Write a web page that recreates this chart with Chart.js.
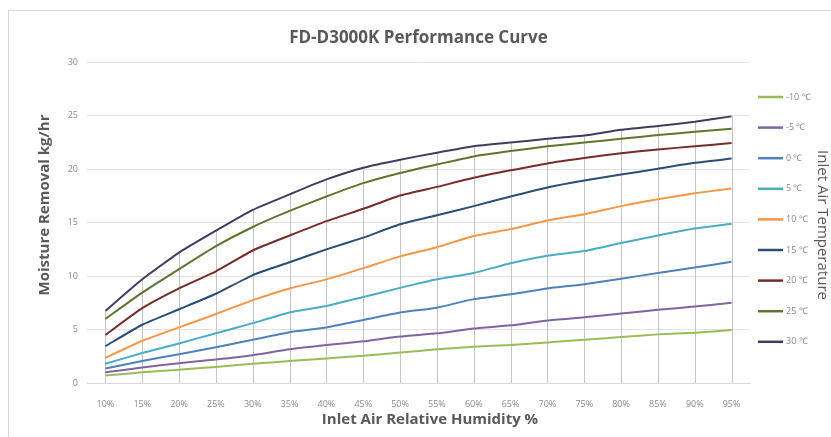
<!DOCTYPE html>
<html>
<head>
<meta charset="utf-8">
<script src="https://cdn.jsdelivr.net/npm/chart.js@4"></script>
<style>
  body { margin: 0; background: #fff; }
  .wrap { width: 831px; height: 437px; position: relative; }
</style>
</head>
<body>
<div class="wrap"><canvas id="chart"></canvas></div>
<script>
// relative humidity categories
const humidity = ["10%","15%","20%","25%","30%","35%","40%","45%","50%","55%","60%","65%","70%","75%","80%","85%","90%","95%"];

// moisture removal (kg/hr) per inlet air temperature
const tMinus10 = [0.7, 1.0, 1.25, 1.5, 1.8, 2.05, 2.3, 2.55, 2.85, 3.15, 3.4, 3.55, 3.8, 4.05, 4.3, 4.55, 4.7, 4.95];
const tMinus5  = [1.0, 1.45, 1.85, 2.2, 2.6, 3.15, 3.55, 3.9, 4.35, 4.65, 5.1, 5.4, 5.85, 6.15, 6.5, 6.85, 7.15, 7.5];
const t0  = [1.35, 2.05, 2.7, 3.35, 4.05, 4.75, 5.2, 5.9, 6.6, 7.05, 7.85, 8.3, 8.85, 9.25, 9.75, 10.3, 10.8, 11.35];
const t5  = [1.8, 2.8, 3.7, 4.65, 5.6, 6.6, 7.2, 8.05, 8.9, 9.7, 10.3, 11.2, 11.9, 12.35, 13.1, 13.8, 14.45, 14.9];
const t10 = [2.35, 3.95, 5.2, 6.45, 7.75, 8.85, 9.7, 10.75, 11.85, 12.7, 13.75, 14.4, 15.2, 15.8, 16.55, 17.2, 17.75, 18.2];
const t15 = [3.45, 5.45, 6.9, 8.35, 10.1, 11.3, 12.5, 13.6, 14.85, 15.7, 16.55, 17.45, 18.3, 18.95, 19.5, 20.05, 20.6, 21.0];
const t20 = [4.5, 7.0, 8.85, 10.45, 12.4, 13.8, 15.15, 16.3, 17.55, 18.35, 19.2, 19.9, 20.55, 21.05, 21.5, 21.85, 22.15, 22.45];
const t25 = [6.0, 8.45, 10.65, 12.8, 14.6, 16.1, 17.45, 18.7, 19.65, 20.45, 21.2, 21.7, 22.15, 22.5, 22.85, 23.2, 23.5, 23.8];
const t30 = [6.75, 9.7, 12.2, 14.25, 16.2, 17.65, 19.05, 20.15, 20.9, 21.55, 22.15, 22.5, 22.85, 23.15, 23.7, 24.05, 24.45, 24.95];

const seriesLabels = ["-10 ℃","-5 ℃","0 ℃","5 ℃","10 ℃","15 ℃","20 ℃","25 ℃","30 ℃"];
const seriesData = [tMinus10, tMinus5, t0, t5, t10, t15, t20, t25, t30];
const seriesColors = ["#9bbb59","#8064a2","#4f81bd","#4bacc6","#f79646","#2c4d75","#772c2a","#5f7530","#433a60"];

const FONT = "'Open Sans', 'Liberation Sans', sans-serif";

// light frame around the chart
const framePlugin = {
  id: "frame",
  beforeDraw(chart) {
    const ctx = chart.ctx;
    ctx.save();
    ctx.strokeStyle = "#d9d9d9";
    ctx.lineWidth = 1;
    ctx.strokeRect(8.5, 10.5, 900, 500);
    ctx.restore();
  }
};

// drop lines from the highest curve down to the axis
const dropLines = {
  id: "dropLines",
  afterDraw(chart) {},
  beforeDatasetsDraw(chart) {
    const {ctx, scales: {x, y}} = chart;
    ctx.save();
    ctx.strokeStyle = "#c4c4c4";
    ctx.lineWidth = 1;
    humidity.forEach((h, i) => {
      const top = Math.max(...seriesData.map(s => s[i]));
      const px = Math.round(x.getPixelForValue(i)) + 0.5;
      ctx.beginPath();
      ctx.moveTo(px, y.getPixelForValue(top));
      ctx.lineTo(px, y.getPixelForValue(0));
      ctx.stroke();
    });
    ctx.restore();
  }
};

// axis titles, legend on the right with rotated title
const sideLegend = {
  id: "sideLegend",
  afterDraw(chart) {
    const ctx = chart.ctx;
    ctx.save();
    chart.data.datasets.forEach((ds, i) => {
      const yy = 97 + i * 30.6;
      ctx.strokeStyle = ds.borderColor;
      ctx.lineWidth = 2.5;
      ctx.beginPath();
      ctx.moveTo(758, yy);
      ctx.lineTo(783, yy);
      ctx.stroke();
      ctx.fillStyle = "#8a8a8a";
      ctx.font = "9px " + FONT;
      ctx.textAlign = "left";
      ctx.textBaseline = "middle";
      ctx.fillText(ds.label, 786, yy);
    });
    ctx.fillStyle = "#595959";
    ctx.textAlign = "center";
    ctx.textBaseline = "middle";

    ctx.font = "bold 15px " + FONT;
    ctx.fillText("Inlet Air Relative Humidity %", 430, 420);

    ctx.save();
    ctx.translate(45, 205);
    ctx.rotate(-Math.PI / 2);
    ctx.fillText("Moisture Removal kg/hr", 0, 0);
    ctx.restore();

    ctx.translate(822, 225);
    ctx.rotate(Math.PI / 2);
    ctx.font = "15px " + FONT;
    ctx.fillText("Inlet Air Temperature", 0, 0);
    ctx.restore();
  }
};

new Chart(document.getElementById("chart"), {
  type: "line",
  data: {
    labels: humidity,
    datasets: seriesData.map((d, i) => ({
      label: seriesLabels[i],
      data: d,
      borderColor: seriesColors[i],
      backgroundColor: seriesColors[i],
      borderWidth: 2,
      pointRadius: 0,
      tension: 0.15,
      fill: false
    }))
  },
  options: {
    responsive: true,
    maintainAspectRatio: false,
    animation: false,
    layout: { padding: { left: 30, right: 81, top: 0, bottom: 8 } },
    plugins: {
      legend: { display: false },
      tooltip: { enabled: false },
      title: {
        display: true,
        fullSize: false,
        text: "FD-D3000K Performance Curve",
        color: "#595959",
        font: { family: FONT, size: 17, weight: "bold" },
        padding: { top: 28, bottom: 14 }
      }
    },
    scales: {
      x: {
        offset: true,
        grid: { display: false, offset: false },
        border: { display: true, color: "#d9d9d9" },
        ticks: {
          color: "#8a8a8a",
          font: { family: FONT, size: 9 },
          padding: 8,
          maxRotation: 0,
          autoSkip: false
        },
        afterFit(scale) { scale.height = 46; }
      },
      y: {
        min: 0,
        max: 30,
        border: { display: false },
        grid: { color: "#e3e3e3", drawTicks: false },
        ticks: {
          stepSize: 5,
          color: "#8a8a8a",
          font: { family: FONT, size: 9 },
          padding: 9
        },
        afterFit(scale) { scale.width = 57; }
      }
    }
  },
  plugins: [framePlugin, dropLines, sideLegend]
});
</script>
</body>
</html>
